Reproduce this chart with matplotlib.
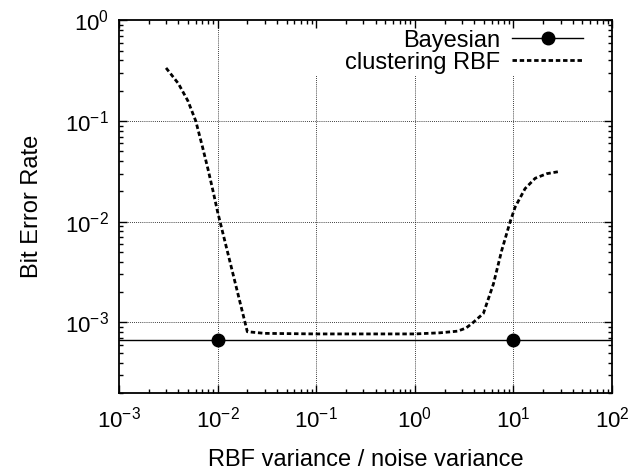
import numpy as np
import matplotlib
matplotlib.use("Agg")
import matplotlib.pyplot as plt
from matplotlib.ticker import LogLocator, NullFormatter
from matplotlib.lines import Line2D

plt.rcParams['font.family'] = ['Liberation Sans', 'DejaVu Sans']
plt.rcParams['mathtext.fontset'] = 'custom'
plt.rcParams['mathtext.rm'] = 'Liberation Sans'
plt.rcParams['mathtext.it'] = 'Liberation Sans'
plt.rcParams['axes.unicode_minus'] = False

# data
bayes_x = [1e-3, 1e-2, 1e1, 1e2]
bayes_y = [6.7e-4, 6.7e-4, 6.7e-4, 6.7e-4]
bayes_mark_x = [1e-2, 1e1]

rbf_x = [0.003, 0.004, 0.005, 0.006, 0.007, 0.008, 0.009, 0.01, 0.02,
         0.03, 0.1, 0.3, 1.0, 1.8, 2.7, 3.3, 3.9, 4.95, 6.25, 7.6, 9.25,
         10.4, 13.1, 16.6, 21.8, 29.7]
rbf_y = [0.336, 0.235, 0.158, 0.1, 0.056, 0.033, 0.02, 0.0125, 8.1e-4,
         7.8e-4, 7.7e-4, 7.7e-4, 7.7e-4, 7.9e-4, 8.2e-4, 8.8e-4, 1.0e-3, 1.23e-3, 2.4e-3, 5.2e-3, 0.01,
         0.014, 0.0213, 0.027, 0.030, 0.0316]

fig = plt.figure(figsize=(6.33, 4.7), dpi=100)
ax = fig.add_axes([0.188, 0.164, 0.779, 0.793])

ax.plot(bayes_x, bayes_y, color='black', lw=1.0, zorder=3)
ax.plot(bayes_mark_x, [bayes_y[0]] * 2, 'o', color='black', ms=9, zorder=4)
ax.plot(rbf_x, rbf_y, color='black', lw=2.0, dashes=(1.6, 1.0), zorder=3)

ax.set_xscale('log')
ax.set_yscale('log')
ax.set_xlim(1e-3, 1e2)
ax.set_ylim(2e-4, 1e0)

# grid: horizontal full, vertical stops under the key
for yv in [1e-3, 1e-2, 1e-1]:
    ax.axhline(yv, color='black', lw=0.6, ls=(0, (1, 1.5)), zorder=1)
ax.axvline(1e-2, color='black', lw=0.6, ls=(0, (1, 1.5)), zorder=1)
for xv in [1e-1, 1e0, 1e1]:
    ax.axvline(xv, ymax=0.853, color='black', lw=0.6, ls=(0, (1, 1.5)), zorder=1)

ax.xaxis.set_major_locator(LogLocator(base=10, numticks=10))
ax.yaxis.set_major_locator(LogLocator(base=10, numticks=10))
ax.xaxis.set_minor_locator(LogLocator(base=10, subs=np.arange(2, 10), numticks=10))
ax.yaxis.set_minor_locator(LogLocator(base=10, subs=np.arange(2, 10), numticks=10))
ax.xaxis.set_minor_formatter(NullFormatter())
ax.yaxis.set_minor_formatter(NullFormatter())
ax.tick_params(which='both', direction='in', top=True, right=True, width=1.0)
ax.tick_params(which='major', length=6, labelsize=16)
ax.tick_params(axis='x', which='major', pad=10)
ax.tick_params(axis='y', which='major', pad=7)
ax.tick_params(which='minor', length=3)
for s in ax.spines.values():
    s.set_linewidth(1.3)

ax.set_xlabel('RBF variance / noise variance', fontsize=17, labelpad=12)
ax.set_ylabel('Bit Error Rate', fontsize=17, labelpad=16)

# key
h1 = Line2D([], [], color='black', lw=1.0, marker='o', ms=9)
h2 = Line2D([], [], color='black', lw=2.0, dashes=(1.6, 1.0))
leg = ax.legend([h1, h2], ['Bayesian', 'clustering RBF'], loc='upper right',
                bbox_to_anchor=(0.96, 1.0),
                markerfirst=False, handlelength=3.0, fontsize=17, frameon=False,
                borderaxespad=0.0, handletextpad=0.5, labelspacing=0.0)

fig.savefig('out.png', dpi=100)
